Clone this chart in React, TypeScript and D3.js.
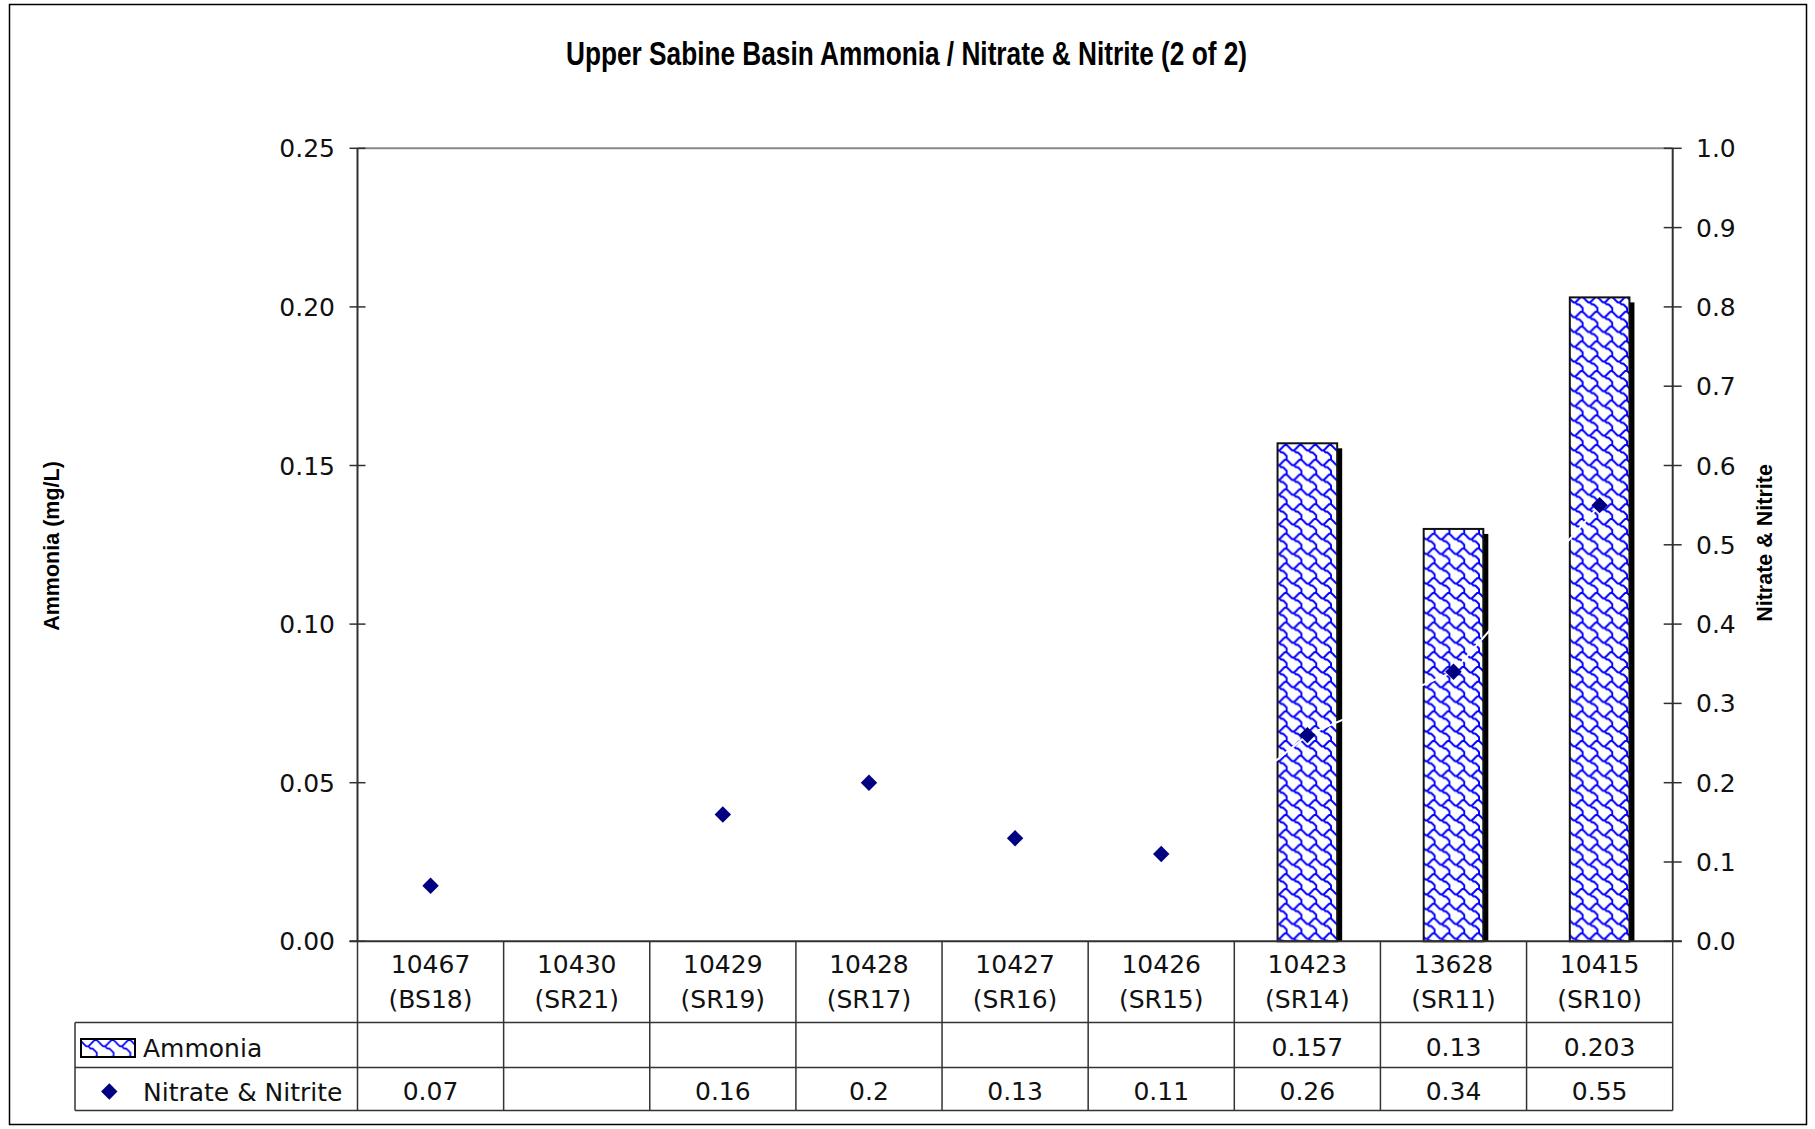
import React from 'react';
import * as d3 from 'd3';

const categories = ["10467", "10430", "10429", "10428", "10427", "10426", "10423", "13628", "10415"];
const stationCodes = ["(BS18)", "(SR21)", "(SR19)", "(SR17)", "(SR16)", "(SR15)", "(SR14)", "(SR11)", "(SR10)"];
const ammonia: (number | null)[] = [null, null, null, null, null, null, 0.157, 0.13, 0.203];
const nitrate: (number | null)[] = [0.07, null, 0.16, 0.2, 0.13, 0.11, 0.26, 0.34, 0.55];
const leftTicks = [0, 0.05, 0.1, 0.15, 0.2, 0.25];
const rightTicks = [0, 0.1, 0.2, 0.3, 0.4, 0.5, 0.6, 0.7, 0.8, 0.9, 1.0];
const seriesNames = ["Ammonia", "Nitrate & Nitrite"];
const titleText = "Upper Sabine Basin Ammonia / Nitrate & Nitrite (2 of 2)";
const leftAxisTitle = "Ammonia (mg/L)";
const rightAxisTitle = "Nitrate & Nitrite";

const W = 1815;
const H = 1129;
const PL = 357.5, PR = 1672.7, PT = 148.3, PB = 941.3;
const TABLE_LEFT = 75;
const ROW1 = 1022.5, ROW2 = 1067.5, ROW3 = 1110.5;

const SANS = "'DejaVu Sans', Verdana, sans-serif";
const BOLD = "'Liberation Sans', Arial, sans-serif";
const NARROW = "'Liberation Sans Narrow', 'Arial Narrow', 'Liberation Sans', Arial, sans-serif";

export default function App() {
  const x = d3.scaleBand<string>().domain(categories).range([PL, PR]).paddingInner(0).paddingOuter(0);
  const yL = d3.scaleLinear().domain([0, 0.25]).range([PB, PT]);
  const yR = d3.scaleLinear().domain([0, 1]).range([PB, PT]);
  const bw = x.bandwidth();
  const barW = bw * 0.408;
  const cx = (i: number) => (x(categories[i]) as number) + bw / 2;
  const fmtL = d3.format('.2f');
  const fmtR = d3.format('.1f');

  const line = d3
    .line<number | null>()
    .defined((d) => d != null)
    .x((_, i) => cx(i))
    .y((d) => yR(d as number));

  const diamond = d3.symbol().type(d3.symbolSquare).size(135)();

  const shinglePath =
    'M-0.5,0.5 L0.5,1.5 L1.5,2.5 L2.5,3.5 L3.5,3.5 L4.5,2.5 L5.5,1.5 L6.5,0.5 L7.5,0.5 L8.5,1.5 ' +
    'M3.5,3.5 L4.5,4.5 L5.5,4.5 L6.5,5.5 L7.5,6.5 L7.5,8.5 M7.5,-0.5 L7.5,0.5';

  const axisColor = '#303030';
  const tableColor = '#333';

  return (
    <div style={{ position: 'absolute', left: 0, top: 0, width: W, height: H, background: '#fff' }}>
      <svg width={W} height={H} style={{ display: 'block' }}>
        <defs>
          <pattern id="shingle" patternUnits="userSpaceOnUse" width={8} height={8} patternTransform="scale(1.85)">
            <rect width={8} height={8} fill="#ffffff" />
            <path d={shinglePath} stroke="#0000ff" strokeWidth={1.05} fill="none" strokeLinejoin="round" strokeLinecap="round" />
          </pattern>
          <pattern id="shingleSmall" patternUnits="userSpaceOnUse" width={8} height={8} patternTransform="translate(81,1039) scale(2.1)">
            <rect width={8} height={8} fill="#ffffff" />
            <path d={shinglePath} stroke="#0000ff" strokeWidth={0.8} fill="none" />
          </pattern>
        </defs>

        {/* outer frame */}
        <rect x={9.5} y={4.5} width={1797} height={1120} fill="#fff" stroke="#000" strokeWidth={1.5} />

        {/* title */}
        <text
          x={906.5}
          y={65}
          textAnchor="middle"
          fontFamily={NARROW}
          fontWeight="bold"
          fontSize={33}
          textLength={681}
          lengthAdjust="spacingAndGlyphs"
          fill="#000"
        >
          {titleText}
        </text>

        {/* top plot border */}
        <line x1={PL} x2={PR} y1={PT} y2={PT} stroke="#888" strokeWidth={2} />

        {/* bars with shadows */}
        {ammonia.map((v, i) =>
          v == null ? null : (
            <g key={'bar' + i}>
              <rect x={cx(i) - barW / 2 + 5} y={yL(v) + 5} width={barW} height={PB - yL(v) - 5} fill="#000" />
              <rect
                x={cx(i) - barW / 2}
                y={yL(v)}
                width={barW}
                height={PB - yL(v)}
                fill="url(#shingle)"
                stroke="#111"
                strokeWidth={2}
              />
            </g>
          )
        )}

        {/* invisible (white) connecting line for nitrate */}
        <path d={line(nitrate) || ''} fill="none" stroke="#fff" strokeWidth={2} />

        {/* nitrate markers */}
        {nitrate.map((v, i) =>
          v == null ? null : (
            <path key={'pt' + i} d={diamond || ''} transform={`translate(${cx(i)},${yR(v)}) rotate(45)`} fill="#000080" />
          )
        )}

        {/* left axis */}
        <line x1={PL} x2={PL} y1={PT} y2={PB} stroke={axisColor} strokeWidth={2} />
        {leftTicks.map((t) => (
          <g key={'lt' + t}>
            <line x1={PL - 8} x2={PL + 8} y1={yL(t)} y2={yL(t)} stroke={axisColor} strokeWidth={1.5} />
            <text x={335} y={yL(t) + 9} textAnchor="end" fontFamily={SANS} fontSize={25} fill="#111">
              {fmtL(t)}
            </text>
          </g>
        ))}

        {/* right axis */}
        <line x1={PR} x2={PR} y1={PT} y2={PB} stroke={axisColor} strokeWidth={2} />
        {rightTicks.map((t) => (
          <g key={'rt' + t}>
            <line x1={PR - 9} x2={PR + 9} y1={yR(t)} y2={yR(t)} stroke={axisColor} strokeWidth={1.5} />
            <text x={1696} y={yR(t) + 9} textAnchor="start" fontFamily={SANS} fontSize={25} fill="#111">
              {fmtR(t)}
            </text>
          </g>
        ))}

        {/* bottom axis */}
        <line x1={PL - 8} x2={PR + 9} y1={PB} y2={PB} stroke={axisColor} strokeWidth={2} />

        {/* axis titles */}
        <text
          transform={`translate(59,546) rotate(-90)`}
          textAnchor="middle"
          fontFamily={BOLD}
          fontWeight="bold"
          fontSize={21.5}
          fill="#000"
        >
          {leftAxisTitle}
        </text>
        <text
          transform={`translate(1772,543) rotate(-90)`}
          textAnchor="middle"
          fontFamily={BOLD}
          fontWeight="bold"
          fontSize={21.5}
          fill="#000"
        >
          {rightAxisTitle}
        </text>

        {/* data table */}
        {categories.map((c, i) => (
          <line
            key={'vl' + i}
            x1={x(c) as number}
            x2={x(c) as number}
            y1={PB}
            y2={ROW3}
            stroke={tableColor}
            strokeWidth={1.5}
          />
        ))}
        <line x1={PR} x2={PR} y1={PB} y2={ROW3} stroke={tableColor} strokeWidth={1.5} />
        <line x1={TABLE_LEFT} x2={TABLE_LEFT} y1={ROW1} y2={ROW3} stroke={tableColor} strokeWidth={1.5} />
        {[ROW1, ROW2, ROW3].map((yy) => (
          <line key={'hl' + yy} x1={TABLE_LEFT} x2={PR} y1={yy} y2={yy} stroke={tableColor} strokeWidth={1.5} />
        ))}

        {categories.map((c, i) => (
          <g key={'cat' + i}>
            <text x={cx(i)} y={973} textAnchor="middle" fontFamily={SANS} fontSize={25} fill="#111">
              {c}
            </text>
            <text x={cx(i)} y={1008} textAnchor="middle" fontFamily={SANS} fontSize={25} fill="#111">
              {stationCodes[i]}
            </text>
          </g>
        ))}

        {/* legend entries */}
        <rect x={81} y={1039} width={54} height={18} fill="url(#shingleSmall)" stroke="#000" strokeWidth={2} />
        <text x={143} y={1057} fontFamily={SANS} fontSize={25} fill="#111">
          {seriesNames[0]}
        </text>
        <path d={diamond || ''} transform={`translate(109.3,1091.5) rotate(45)`} fill="#000080" />
        <text x={143} y={1101} fontFamily={SANS} fontSize={25} fill="#111">
          {seriesNames[1]}
        </text>

        {/* table values */}
        {ammonia.map((v, i) =>
          v == null ? null : (
            <text key={'av' + i} x={cx(i)} y={1056} textAnchor="middle" fontFamily={SANS} fontSize={25} fill="#111">
              {String(v)}
            </text>
          )
        )}
        {nitrate.map((v, i) =>
          v == null ? null : (
            <text key={'nv' + i} x={cx(i)} y={1100} textAnchor="middle" fontFamily={SANS} fontSize={25} fill="#111">
              {String(v)}
            </text>
          )
        )}
      </svg>
    </div>
  );
}
